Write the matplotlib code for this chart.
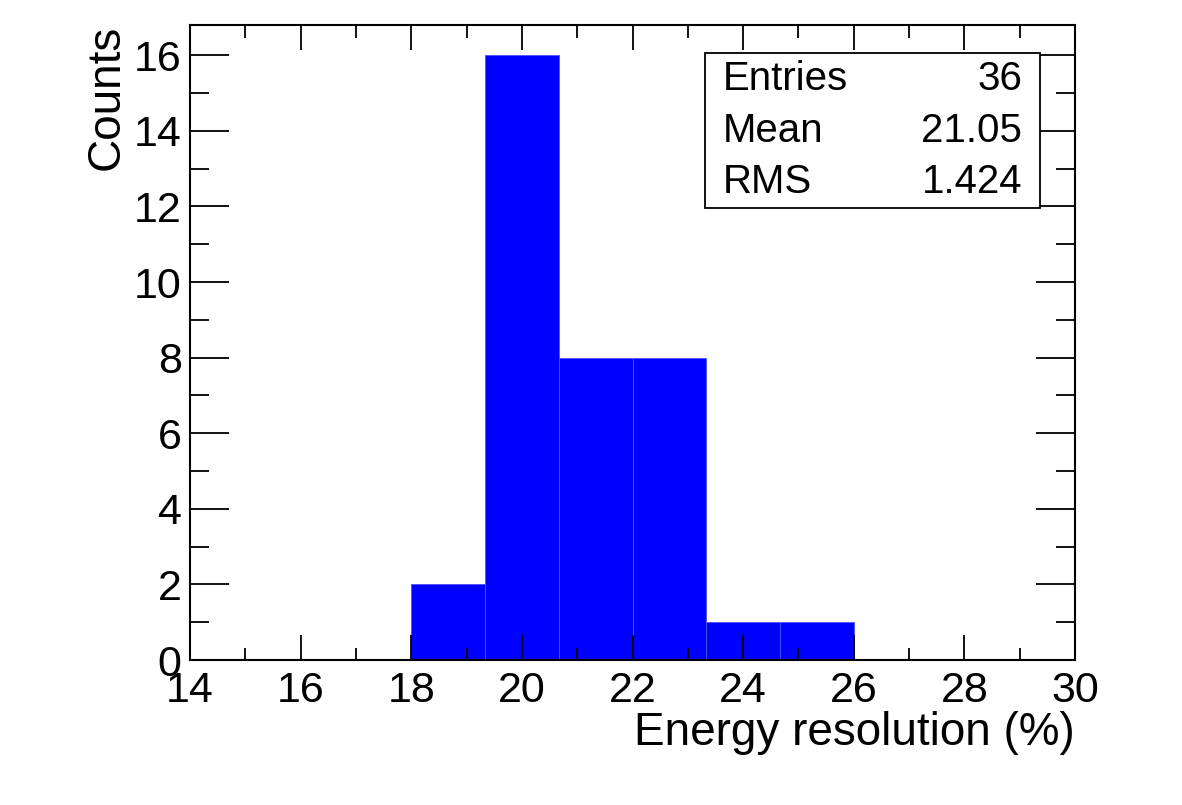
import numpy as np
import matplotlib.pyplot as plt
from matplotlib.ticker import MultipleLocator

plt.rcParams['font.family'] = ['Liberation Sans', 'DejaVu Sans']

# histogram bins (energy resolution, %) and counts
bin_edges = [18.0, 19.333, 20.667, 22.0, 23.333, 24.667, 26.0]
counts = [2, 16, 8, 8, 1, 1]

# stats box values
stat_names = ['Entries', 'Mean', 'RMS']
stat_values = ['36', '21.05', '1.424']

fig = plt.figure(figsize=(11.82, 8.05), dpi=100)
ax = fig.add_axes([190 / 1182, 1 - 660 / 805, 885 / 1182, 635 / 805])

widths = np.diff(bin_edges)
ax.bar(bin_edges[:-1], counts, width=widths, align='edge', color='#0000ff',
       edgecolor='#5050ff', lw=0.6)

ax.set_xlim(14, 30)
ax.set_ylim(0, 16.8)

ax.xaxis.set_major_locator(MultipleLocator(2))
ax.xaxis.set_minor_locator(MultipleLocator(1))
ax.yaxis.set_major_locator(MultipleLocator(2))
ax.yaxis.set_minor_locator(MultipleLocator(1))

ax.tick_params(axis='both', which='both', direction='in', top=True, right=True,
               width=1.3, labelsize=31)
ax.tick_params(axis='x', which='major', length=18, pad=8)
ax.tick_params(axis='x', which='minor', length=9)
ax.tick_params(axis='y', which='major', length=28, pad=6)
ax.tick_params(axis='y', which='minor', length=14)
for s in ax.spines.values():
    s.set_linewidth(1.5)

ax.set_xlabel('Energy resolution (%)', fontsize=33, loc='right', labelpad=0)
ax.set_ylabel('Counts', fontsize=33, loc='top', labelpad=4)

# stats box
bx0, by0 = 705 / 1182, 1 - 208 / 805
bw, bh = 335 / 1182, 155 / 805
fig.patches.append(plt.Rectangle((bx0, by0), bw, bh, transform=fig.transFigure,
                                 facecolor='white', edgecolor='black', lw=1.3,
                                 zorder=5))
for i, (n, v) in enumerate(zip(stat_names, stat_values)):
    yy = by0 + bh * (1 - (i + 0.5) / 3)
    fig.text(bx0 + 18 / 1182, yy, n, fontsize=29, va='center', ha='left', zorder=6)
    fig.text(bx0 + bw - 18 / 1182, yy, v, fontsize=29, va='center', ha='right', zorder=6)

fig.savefig('out.png', dpi=100)
